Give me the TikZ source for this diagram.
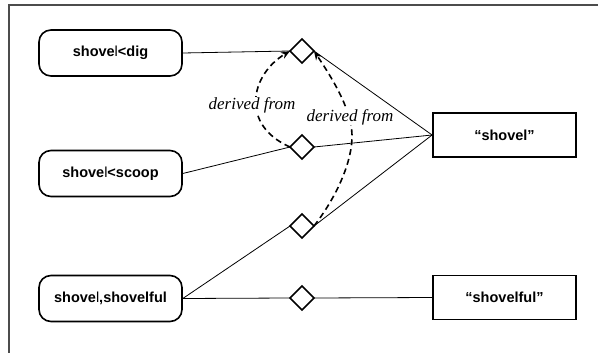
\documentclass[tikz,border=0pt]{standalone}
\usepackage{fontspec}
\setmainfont{Liberation Serif}
\setsansfont{Liberation Sans}
\usetikzlibrary{shapes.geometric,arrows.meta}
\tikzset{
  rbox/.style={draw, rounded corners=12pt, minimum width=143pt, minimum height=46pt, line width=1.6pt, inner sep=0pt, font=\sffamily\bfseries\fontsize{14.5}{17}\selectfont},
  sbox/.style={draw, minimum width=143pt, minimum height=44pt, line width=1.8pt, inner sep=0pt, font=\sffamily\bfseries\fontsize{14.5}{17}\selectfont},
  dia/.style={draw, diamond, minimum width=24pt, minimum height=24pt, inner sep=0pt, outer sep=0pt, line width=1.6pt, fill=white},
  conn/.style={line width=0.8pt},
  deriv/.style={dashed, dash pattern=on 6pt off 4pt, line width=1.6pt, -{Stealth[length=9pt,width=7pt]}},
  lbl/.style={font=\itshape\fontsize{17}{19}\selectfont, fill=white, inner sep=0.5pt},
  frame/.style={draw=black!70, line width=1.5pt}
}
\newcommand{\thinl}{{\mdseries l}}
\begin{document}
\begin{tikzpicture}[x=1pt,y=-1pt]
\useasboundingbox (0,0) rectangle (599,353);
\draw[frame] (598,5) -- (9,5) -- (9,353);

\node[rbox] (dig) at (110.5,53) {shove\thinl<dig};
\node[rbox] (scoop) at (110.5,173.5) {shove\thinl<scoop};
\node[rbox] (ful) at (110.5,298.5) {shove\thinl,shovelful};
\node[sbox] (shovel) at (504.5,135) {“shovel”};
\node[sbox] (shovelful) at (504.5,297.5) {“shovelful”};

\node[dia] (d1) at (302,51) {};
\node[dia] (d2) at (302,147) {};
\node[dia] (d3) at (302,226) {};
\node[dia] (d4) at (302,298) {};

\draw[deriv] (d2.west) .. controls (240,125) and (250,75) .. (d1.west);
\draw[deriv] (d3.east) .. controls (338,195) and (352.5,160) .. (352,135) .. controls (351.5,108) and (330,75) .. (d1.east);

\node[lbl] (l1) at (252,105) {derived from};
\node[lbl] (l2) at (350,117) {derived from};

\draw[conn] (dig.east) -- (d1.west);
\draw[conn] (scoop.east) -- (d2.west);
\draw[conn] (ful.east) -- (d3.west);
\draw[conn] (ful.east) -- (d4.west);
\draw[conn] (d4.east) -- (shovelful.west);
\draw[conn] (shovel.west) -- (d1.east);
\draw[conn] (shovel.west) -- (d2.east);
\draw[conn] (shovel.west) -- (d3.east);
\end{tikzpicture}
\end{document}
